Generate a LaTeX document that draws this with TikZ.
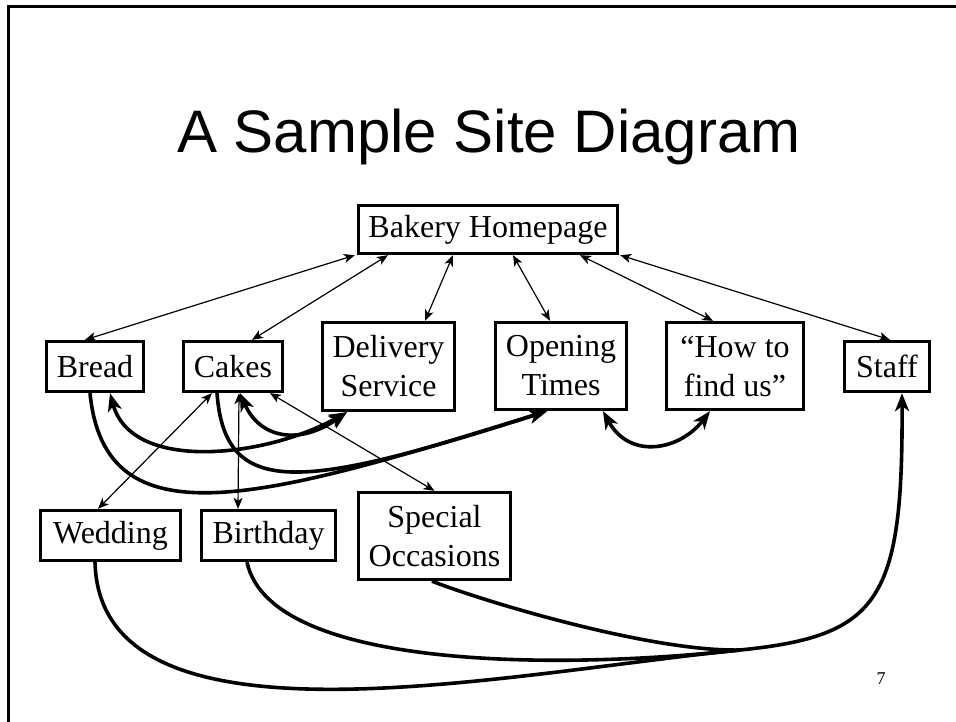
\documentclass[tikz,border=0pt]{standalone}
\usepackage{fontspec}
\setmainfont{Liberation Serif}
\newfontfamily\titlefont{Liberation Sans}
\usetikzlibrary{arrows.meta,calc}
\tikzset{
  page/.style={draw,line width=3.3pt,inner sep=0pt,align=center,font=\fontsize{32}{39}\selectfont},
  thin/.style={line width=1.2pt,{Stealth[length=11pt,width=9pt,inset=3pt]}-{Stealth[length=11pt,width=9pt,inset=3pt]}},
  thick2/.style={line width=3.6pt,{Stealth[length=18pt,width=14pt,inset=5pt]}-{Stealth[length=18pt,width=14pt,inset=5pt]}},
  thick1/.style={line width=3.6pt,-{Stealth[length=18pt,width=14pt,inset=5pt]}},
  thick0/.style={line width=3.6pt}
}
\begin{document}
\begin{tikzpicture}[x=1pt,y=-1pt]
\useasboundingbox (0,0) rectangle (956,722);
\fill[white] (0,0) rectangle (956,722);
\draw[line width=3pt] (8,722) -- (8,6.5) -- (956,6.5);
\node[anchor=base,inner sep=0pt,font=\titlefont\fontsize{60}{70}\selectfont] (title) at (489,153) {A Sample Site Diagram};
\node[page,minimum width=259pt,minimum height=48pt] (home) at (488,229.5) {Bakery Homepage};
\node[page,minimum width=97pt,minimum height=50pt] (bread) at (95,366.5) {Bread};
\node[page,minimum width=99pt,minimum height=50pt] (cakes) at (233,366.5) {Cakes};
\node[page,minimum width=132pt,minimum height=88pt] (deliv) at (388.5,366.5) {Delivery\\Service};
\node[page,minimum width=131pt,minimum height=87pt] (open) at (561,366) {Opening\\Times};
\node[page,minimum width=137pt,minimum height=87pt] (how) at (735,366) {“How to\\find us”};
\node[page,minimum width=85pt,minimum height=50pt] (staff) at (887,366.5) {Staff};
\node[page,minimum width=140pt,minimum height=50pt] (wed) at (110.5,535.5) {Wedding};
\node[page,minimum width=134pt,minimum height=50pt] (birth) at (268.5,535.5) {Birthday};
\node[page,minimum width=152pt,minimum height=87pt] (spec) at (434.5,536) {Special\\Occasions};
\node[inner sep=0pt,font=\fontsize{18}{20}\selectfont] (num) at (881,679) {7};
\coordinate (j) at (740,650);
% home links
\draw[thin] ([xshift=-2]home.south west) -- ([xshift=-10]bread.north);
\draw[thin] ([xshift=-100]home.south) -- ([xshift=19]cakes.north);
\draw[thin] ([xshift=-35]home.south) -- ([xshift=36.5]deliv.north);
\draw[thin] ([xshift=25]home.south) -- ([xshift=-11]open.north);
\draw[thin] ([xshift=92]home.south) -- ([xshift=-22]how.north);
\draw[thin] ([xshift=1]home.south east) -- ([xshift=3]staff.north);
% cakes links
\draw[thin] ([xshift=-21]cakes.south) -- ([xshift=-12.5]wed.north);
\draw[thin] ([xshift=6]cakes.south) -- ([xshift=-30.5]birth.north);
\draw[thin] ([xshift=37]cakes.south) -- (spec.north);
% thick curves
\draw[thick2] ([xshift=15]bread.south) .. controls +(22,80) and +(-80,45) .. ([xshift=-41.5]deliv.south);
\draw[thick2] ([xshift=7]cakes.south) .. controls +(20,46) and +(-47,33) .. ([xshift=-41.5]deliv.south);
\draw[thick1] ([xshift=-5]bread.south) .. controls +(15,151) and +(-287,89) .. ([xshift=-14]open.south);
\draw[thick1] ([xshift=-16]cakes.south) .. controls +(8,106) and +(-247,79) .. ([xshift=-14]open.south);
\draw[thick2] ([xshift=42]open.south) .. controls +(27,49) and +(-30,39) .. ([xshift=-25]how.south);
\draw[thick0] ([xshift=-15.5]wed.south) .. controls +(5,198) and +(-240,24) .. (j);
\draw[thick0] ([xshift=-21.5]birth.south) .. controls +(23,108) and +(-180,20) .. (j);
\draw[thick0] ([xshift=-2.5]spec.south) .. controls +(48,19) and +(-90,2) .. (j);
\draw[thick1] (j) .. controls +(140,-14) and +(1,207) .. ([xshift=15]staff.south);
\end{tikzpicture}
\end{document}
